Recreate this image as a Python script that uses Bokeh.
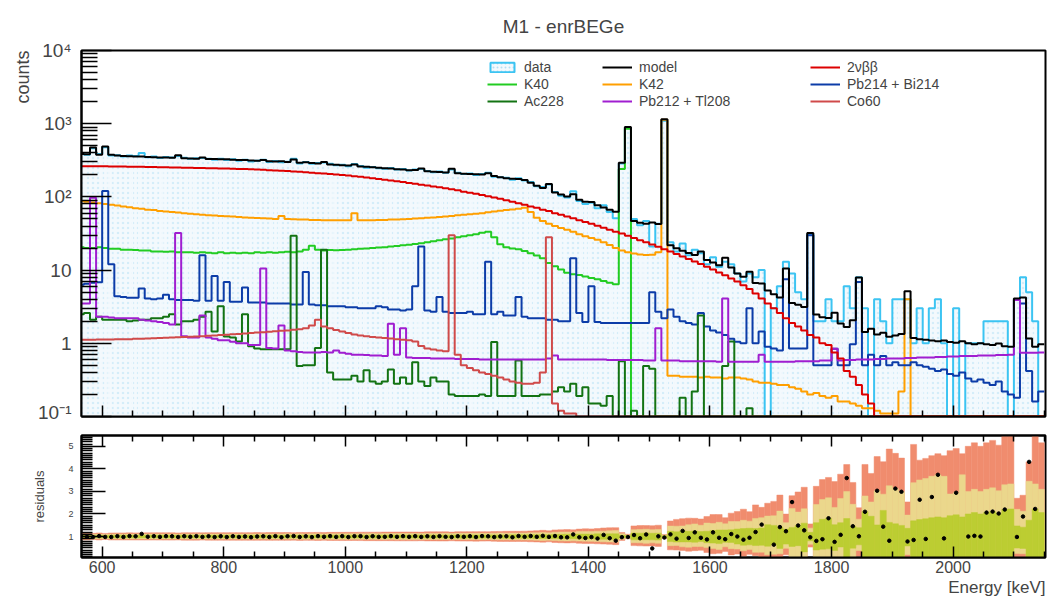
import math
import numpy as np
from bokeh.plotting import figure
from bokeh.layouts import column
from bokeh.models import Range1d, FixedTicker, Legend, LegendItem, LinearAxis, Title
from bokeh.embed import file_html
from bokeh.resources import INLINE

# ---------------------------------------------------------------------------
# Spectrum: 10 keV bins starting at 560 keV (bin centres 565 ... 2145 keV)
# ---------------------------------------------------------------------------
bin_start = 560
bin_width = 10

data_counts = [
    390, 377, 462, 385, 478, 368, 372, 356, 367, 361,
    398, 349, 355, 341, 350, 346, 362, 342, 331, 338,
    339, 333, 322, 331, 318, 326, 312, 321, 304, 312,
    322, 300, 309, 298, 303, 331, 287, 300, 283, 291,
    296, 283, 270, 276, 262, 281, 265, 251, 257, 246,
    243, 249, 236, 241, 229, 236, 240, 226, 217, 223,
    213, 237, 214, 205, 209, 199, 206, 213, 189, 186,
    182, 171, 180, 168, 160, 140, 136, 148, 117, 104,
    98, 119, 88, 80, 83, 70, 77, 62, 51, 285,
    880, 50, 41, 47, 21, 43, 1100, 24, 18, 23,
    16, 19, 17, 12, 15, 11, 13, 12, 9, 7,
    9, 8, 10, 0, 3, 6, 13, 9, 5, 4,
    31, 2, 2, 4, 2, 2, 6, 3, 8, 3,
    0, 4, 2, 1, 4, 4, 4, 1, 3, 1,
    3, 4, 1, 0, 3, 0, 1, 1, 1, 2,
    2, 2, 2, 0, 4, 8, 5, 2, 0,
]

two_nbb = [
    263, 263, 263, 262, 262, 261, 261, 260, 259, 259,
    258, 257, 256, 255, 254, 253, 252, 251, 250, 249,
    248, 247, 246, 245, 244, 243, 241, 240, 238, 236,
    234, 232, 230, 228, 225, 222, 220, 217, 214, 211,
    208, 205, 202, 199, 196, 192, 188, 184, 180, 176,
    172, 168, 164, 160, 155, 151, 147, 143, 139, 135,
    131, 127, 123, 118, 114, 110, 106, 102, 98, 94,
    90, 86, 82, 78, 74, 71, 67, 64, 60, 57,
    54, 51, 48, 45.5, 43, 40.5, 38, 35.5, 33.5, 31.5,
    29.5, 27.5, 25.5, 24, 22.3, 20.8, 19.3, 18, 16.6, 15.3,
    14.2, 13.1, 12.1, 11.1, 10.2, 9.3, 8.5, 7.7, 7.0, 6.2,
    5.5, 4.8, 4.1, 3.5, 3.0, 2.6, 2.2, 1.9, 1.7, 1.5,
    1.3, 1.2, 1.0, 0.95, 0.75, 0.62, 0.42, 0.35, 0.27, 0.2,
    0.15, 0.09, 0, 0, 0, 0, 0, 0, 0, 0,
    0, 0, 0, 0, 0, 0, 0, 0, 0, 0,
    0, 0, 0, 0, 0, 0, 0, 0, 0,
]

k40 = [
    20.5, 20, 20, 20.5, 20, 19.5, 19.5, 19, 19, 18.8,
    18.5, 18.5, 18, 18, 17.8, 18, 17.5, 17.5, 17.5, 17.3,
    17.5, 17.2, 17, 17.5, 17, 17.2, 17, 17.3, 17, 17.5,
    17.2, 17.5, 17.3, 17.5, 17.8, 17.5, 18, 19, 21.5, 19,
    18.5, 18.8, 18.6, 18.8, 19, 19.3, 19.5, 19.8, 20, 20.3,
    20.5, 21, 21.3, 21.8, 22.2, 22.7, 23.3, 24, 24.8, 25.5,
    26.3, 27, 28, 29, 30, 31, 32.5, 33.5, 28, 22.5,
    20.5, 19.8, 19.2, 18.2, 17, 15.8, 14.5, 12.5, 11.3, 10.2,
    9.2, 8.8, 8.6, 8.2, 7.8, 7.5, 7.1, 6.7, 6.4, 240,
    850, 0, 0, 0, 0, 0, 0, 0, 0, 0,
    0, 0, 0, 0, 0, 0, 0, 0, 0, 0,
    0, 0, 0, 0, 0, 0, 0, 0, 0, 0,
    0, 0, 0, 0, 0, 0, 0, 0, 0, 0,
    0, 0, 0, 0, 0, 0, 0, 0, 0, 0,
    0, 0, 0, 0, 0, 0, 0, 0, 0, 0,
    0, 0, 0, 0, 0, 0, 0, 0, 0,
]

k42 = [
    88, 86, 84, 82, 80, 78, 76, 74, 72, 70,
    69, 67, 66, 64, 63, 62, 61, 60, 59, 58,
    57, 56, 55.5, 55, 54.5, 54, 53, 52.5, 52, 51.5,
    51, 50.5, 50, 55, 50, 49.5, 49, 49, 48.5, 48.5,
    48, 48, 48, 48, 48, 60, 48, 48, 48, 48.5,
    48.5, 49, 49, 49.5, 50, 50.5, 51, 52, 52.5, 53,
    54, 55, 56, 57, 58, 59, 60, 61.5, 63, 64.5,
    66, 67.5, 69, 71, 62, 52, 47, 43, 40, 37.5,
    35.5, 33.5, 31, 29, 27.5, 26, 24, 22, 20, 18.5,
    17.5, 16.8, 16.3, 16.1, 16.2, 17.5, 1130, 0.36, 0.36, 0.35,
    0.35, 0.35, 0.34, 0.35, 0.34, 0.34, 0.33, 0.34, 0.34, 0.33,
    0.32, 0.3, 0.29, 0.29, 0.28, 0.27, 0.27, 0.25, 0.24, 0.22,
    0.2, 0.21, 0.19, 0.18, 0.19, 0.16, 0.16, 0.15, 0.14, 0.13,
    0.13, 0.12, 0.11, 0.11, 0.11, 0.22, 4.0, 0, 0, 0,
    0, 0, 0, 0, 0, 0, 0, 0, 0, 0,
    0, 0, 0, 0, 0, 0, 0, 0, 0,
]

pb214_bi214 = [
    6.3, 6.5, 6.7, 6.8, 120, 12, 4.4, 4.3, 4.2, 4.2,
    5.6, 4.1, 4.0, 4.1, 4.6, 4.0, 3.9, 3.9, 3.9, 3.8,
    15.9, 3.8, 8.3, 3.8, 6.9, 3.7, 3.7, 5.8, 3.6, 3.6,
    3.6, 3.5, 3.5, 3.5, 3.5, 3.4, 3.4, 9.4, 3.4, 3.3,
    3.3, 3.2, 3.2, 3.2, 3.1, 3.1, 3.0, 3.0, 3.0, 3.2,
    3.1, 2.9, 2.9, 2.8, 2.9, 6.0, 21, 2.8, 2.7, 4.3,
    2.7, 2.6, 2.6, 2.6, 2.7, 2.5, 2.5, 13, 2.5, 2.7,
    2.4, 2.4, 4.3, 2.3, 2.2, 2.2, 2.2, 2.1, 2.1, 2.0,
    2.0, 14.5, 2.6, 1.95, 6.0, 1.95, 1.9, 1.9, 1.9, 1.9,
    1.9, 1.9, 1.9, 1.9, 5.0, 2.7, 2.2, 2.9, 2.3, 2.0,
    1.9, 1.8, 2.6, 1.7, 1.5, 1.4, 1.3, 1.15, 1.05, 1.0,
    3.0, 1.0, 1.45, 0.9, 0.85, 0.8, 7.5, 0.85, 0.85, 0.85,
    30, 0.5, 0.5, 0.5, 0.84, 0.5, 0.5, 0.97, 6.9, 0.5,
    0.7, 0.5, 0.67, 0.5, 0.55, 0.5, 0.5, 0.55, 0.5, 0.48,
    0.45, 0.42, 0.44, 0.38, 0.36, 0.4, 0.33, 0.3, 0.32, 0.29,
    0.27, 0.3, 0.22, 0.2, 0.18, 3.5, 0.42, 0.16, 0.22,
]

ac228 = [
    2.5, 2.6, 2.1, 2.3, 2.1, 2.1, 2.1, 2.1, 2.0, 2.05,
    2.1, 2.1, 2.2, 2.2, 2.3, 2.5, 1.8, 2.0, 2.0, 2.1,
    2.3, 2.7, 1.45, 3.2, 1.24, 1.2, 1.06, 2.5, 0.91, 0.85,
    0.83, 0.83, 0.83, 0.83, 0.83, 29.5, 0.49, 0.5, 0.5, 0.86,
    19, 0.4, 0.32, 0.32, 0.32, 0.36, 0.3, 0.43, 0.3, 0.28,
    0.3, 0.44, 0.28, 0.34, 0.28, 0.55, 0.3, 0.26, 0.34, 0.3,
    0.3, 0.2, 0.19, 0.19, 0.19, 0.19, 0.2, 0.19, 1.04, 0.19,
    0.19, 0.19, 0.58, 0.19, 0.19, 0.19, 0.2, 0.2, 0.22, 0.25,
    0.22, 0.28, 0.19, 0.25, 0.15, 0.15, 0.14, 0.19, 0.08, 0.57,
    0.08, 0.12, 0.05, 0.49, 0.45, 0.05, 0.05, 0.05, 0.05, 0.18,
    0.05, 0.22, 2.4, 0.05, 0.05, 0.05, 0.49, 1.06, 0.05, 0.05,
    0.13, 0, 0, 0, 0, 0, 0, 0, 0, 0,
    0, 0, 0, 0, 0, 0, 0, 0, 0, 0,
    0, 0, 0, 0, 0, 0, 0, 0, 0, 0,
    0, 0, 0, 0, 0, 0, 0, 0, 0, 0,
    0, 0, 0, 0, 0, 0, 0, 0, 0,
]

pb212_tl208 = [
    3.5, 3.5, 97, 2.3, 2.3, 2.25, 2.2, 2.2, 2.2, 2.2,
    2.1, 2.05, 2.0, 1.95, 1.9, 1.8, 32, 1.25, 1.2, 1.2,
    2.4, 1.2, 1.15, 1.1, 1.1, 1.05, 1.0, 1.0, 0.95, 0.95,
    10.5, 0.86, 0.85, 1.75, 0.8, 0.78, 0.76, 0.75, 0.75, 0.75,
    0.76, 0.75, 0.8, 0.74, 0.72, 0.7, 0.7, 0.69, 0.68, 0.68,
    0.67, 1.85, 0.7, 1.6, 0.64, 0.63, 0.63, 0.63, 0.62, 0.62,
    0.62, 0.62, 0.61, 0.61, 0.61, 0.61, 0.6, 0.6, 0.6, 0.6,
    0.6, 0.6, 0.6, 0.6, 0.6, 0.6, 0.6, 0.62, 0.68, 0.6,
    0.6, 0.6, 0.6, 0.6, 0.6, 0.6, 0.6, 0.59, 0.59, 0.59,
    0.59, 0.59, 0.59, 0.58, 0.58, 1.6, 0.58, 0.58, 0.58, 0.57,
    0.57, 0.57, 0.57, 0.57, 0.57, 0.56, 4.1, 0.56, 0.56, 0.56,
    0.56, 0.56, 0.7, 0.56, 0.56, 0.56, 0.56, 0.56, 0.57, 0.57,
    0.57, 0.57, 0.58, 0.58, 0.84, 0.58, 0.59, 0.59, 0.6, 0.6,
    0.6, 0.61, 0.61, 0.62, 0.62, 0.62, 0.63, 0.63, 0.64, 0.64,
    0.64, 0.65, 0.65, 0.66, 0.66, 0.67, 0.67, 0.67, 0.68, 0.68,
    0.68, 0.69, 0.69, 0.7, 3.9, 0.74, 0.74, 0.74, 0.75,
]

co60 = [
    1.12, 1.12, 1.12, 1.13, 1.13, 1.13, 1.14, 1.14, 1.14, 1.15,
    1.15, 1.16, 1.17, 1.18, 1.19, 1.2, 1.21, 1.22, 1.23, 1.24,
    1.25, 1.27, 1.28, 1.3, 1.31, 1.33, 1.34, 1.36, 1.38, 1.4,
    1.42, 1.44, 1.46, 1.48, 1.5, 1.53, 1.56, 1.6, 1.75, 2.1,
    1.7, 1.6, 1.52, 1.45, 1.38, 1.32, 1.28, 1.25, 1.22, 1.2,
    1.18, 1.16, 1.14, 1.12, 1.1, 1.06, 0.92, 0.85, 0.82, 0.8,
    0.78, 30, 0.7, 0.5, 0.46, 0.43, 0.4, 0.38, 0.36, 0.34,
    0.32, 0.3, 0.29, 0.28, 0.28, 0.29, 0.4, 28, 0.15, 0.12,
    0.11, 0.11, 0.1, 0.1, 0.09, 0.09, 0.08, 0.08, 0, 0,
    0, 0, 0, 0, 0, 0, 0, 0, 0, 0,
    0, 0, 0, 0, 0, 0, 0, 0, 0, 0,
    0, 0, 0, 0, 0, 0, 0, 0, 0, 0,
    0, 0, 0, 0, 0, 0, 0, 0, 0, 0,
    0, 0, 0, 0, 0, 0, 0, 0, 0, 0,
    0, 0, 0, 0, 0, 0, 0, 0, 0, 0,
    0, 0, 0, 0, 0, 0, 0, 0, 0,
]

# axis ticks
energy_ticks = [600, 800, 1000, 1200, 1400, 1600, 1800, 2000]
count_ticks = [0.1, 1, 10, 100, 1000, 10000]
count_tick_labels = ["10\u207b\u00b9", "1", "10", "10\u00b2", "10\u00b3", "10\u2074"]
residual_ticks = [1, 2, 3, 4, 5]

# ---------------------------------------------------------------------------
n_bins = len(data_counts)
edges = bin_start + bin_width * np.arange(n_bins + 1)
left, right = edges[:-1], edges[1:]
centres = 0.5 * (left + right)

components = [k40, k42, pb214_bi214, ac228, pb212_tl208, co60, two_nbb]
model = np.sum([np.asarray(c, float) for c in components], axis=0)
data = np.asarray(data_counts, float)

Y_MIN, Y_MAX = 0.1, 1e4


def floor_at_axis(v):
    return np.maximum(np.asarray(v, float), Y_MIN)


def step_xy(values):
    v = floor_at_axis(values)
    return list(edges), list(v) + [v[-1]]


FONT = "Liberation Sans"
X_RANGE = Range1d(566, 2152)

minor_energy = [e for e in range(600, 2151, 50) if e % 200 != 0]
minor_counts = [m * 10.0 ** d for d in range(-1, 4) for m in range(2, 10)]
blank_energy = {t: "" for t in energy_ticks}


def style_ticks(ax, major, minor):
    ax.major_tick_in = major
    ax.major_tick_out = 0
    ax.minor_tick_in = minor
    ax.minor_tick_out = 0
    ax.axis_line_width = 2
    ax.major_tick_line_width = 1.5
    ax.minor_tick_line_width = 1.5


# ---------------------------------------------------------------------------
# upper pad: spectrum
# ---------------------------------------------------------------------------
top = figure(width=1049, height=422, x_range=X_RANGE,
             y_range=Range1d(Y_MIN, Y_MAX), y_axis_type="log",
             output_backend="svg", toolbar_location=None,
             min_border_left=76, min_border_right=4,
             min_border_top=45, min_border_bottom=6)
top.xgrid.visible = False
top.ygrid.visible = False
top.outline_line_color = "black"
top.outline_line_width = 2

yax = top.yaxis[0]
yax.ticker = FixedTicker(ticks=count_ticks, minor_ticks=minor_counts)
yax.major_label_overrides = {t: s for t, s in zip(count_ticks, count_tick_labels)}
yax.major_label_text_font = FONT
yax.major_label_text_font_size = "19px"
yax.major_label_standoff = 10
style_ticks(yax, 30, 16)
yax.axis_label = "counts"
yax.axis_label_text_font = FONT
yax.axis_label_text_font_size = "18px"
yax.axis_label_text_font_style = "normal"
yax.axis_label_standoff = 12
yax.axis_label_orientation = math.pi / 2
if "axis_label_align" in yax.properties():
    yax.axis_label_align = "end"

xax = top.xaxis[0]
xax.ticker = FixedTicker(ticks=energy_ticks, minor_ticks=minor_energy)
xax.major_label_overrides = blank_energy
xax.major_label_text_font_size = "1px"
xax.major_label_standoff = 0
style_ticks(xax, 11, 6)

top.add_layout(Title(text="M1 - enrBEGe", align="center", text_font=FONT,
                     text_font_size="19px", text_font_style="normal",
                     standoff=27), "above")

DATA_FILL = "#f3f9fd"
DATA_DOTS = "#b4dff3"
DATA_LINE = "#3cc4f2"

top.quad(left=left, right=right, bottom=Y_MIN, top=floor_at_axis(data),
         fill_color=DATA_FILL, line_color=DATA_FILL, line_width=1,
         hatch_pattern="dot", hatch_color=DATA_DOTS, hatch_scale=5,
         hatch_weight=1, hatch_alpha=0.5)
nan = float("nan")
data_key = top.quad(left=[nan], right=[nan], bottom=[nan], top=[nan],
                    fill_color=DATA_FILL, line_color=DATA_LINE, line_width=2,
                    hatch_pattern="dot", hatch_color=DATA_DOTS, hatch_scale=4,
                    hatch_weight=1)
sx, sy = step_xy(data)
top.step(sx, sy, mode="after", line_color=DATA_LINE, line_width=2)

styles = [
    ("K40", k40, "#22cc22"),
    ("K42", k42, "#ff9f00"),
    ("Pb214 + Bi214", pb214_bi214, "#0c3ca8"),
    ("Ac228", ac228, "#137313"),
    ("Pb212 + Tl208", pb212_tl208, "#a01ed0"),
    ("Co60", co60, "#d04a4a"),
    ("2\u03bd\u03b2\u03b2", two_nbb, "#dd0000"),
]
rend = {}
for name, vals, col in styles:
    sx, sy = step_xy(vals)
    rend[name] = top.step(sx, sy, mode="after", line_color=col, line_width=2)
sx, sy = step_xy(model)
rend["model"] = top.step(sx, sy, mode="after", line_color="black", line_width=2)


def make_legend(entries, loc):
    leg = Legend(items=[LegendItem(label=lab, renderers=[r]) for lab, r in entries],
                 location=loc, orientation="vertical",
                 label_text_font=FONT, label_text_font_size="14px",
                 glyph_width=30, glyph_height=12, label_height=12,
                 label_standoff=7, spacing=1, padding=0, margin=0,
                 border_line_alpha=0, background_fill_alpha=0)
    top.add_layout(leg)


make_legend([("data", data_key), ("K40", rend["K40"]), ("Ac228", rend["Ac228"])], (406, 307))
make_legend([("model", rend["model"]), ("K42", rend["K42"]),
             ("Pb212 + Tl208", rend["Pb212 + Tl208"])], (521, 307))
make_legend([("2\u03bd\u03b2\u03b2", rend["2\u03bd\u03b2\u03b2"]),
             ("Pb214 + Bi214", rend["Pb214 + Bi214"]), ("Co60", rend["Co60"])], (729, 307))

# ---------------------------------------------------------------------------
# lower pad: data / model with Poisson bands of the model expectation
# ---------------------------------------------------------------------------


def poisson_quantile(mu, q):
    k, cdf, lmu = 0, 0.0, math.log(mu)
    while True:
        cdf += math.exp(k * lmu - mu - math.lgamma(k + 1))
        if cdf >= q:
            return k
        k += 1


def band(p):
    lo = np.array([poisson_quantile(m, 0.5 * (1 - p)) for m in model]) / model
    hi = np.array([poisson_quantile(m, 0.5 * (1 + p)) for m in model]) / model
    return lo, hi


bot = figure(width=1049, height=176, x_range=X_RANGE, y_range=Range1d(0.07, 5.48),
             output_backend="svg", toolbar_location=None,
             min_border_left=76, min_border_right=4,
             min_border_top=13, min_border_bottom=41)
bot.xgrid.visible = False
bot.ygrid.visible = False
bot.outline_line_color = "black"
bot.outline_line_width = 2

for p, col in [(0.9973, "#f08c6e"), (0.9545, "#ebd78c"), (0.6827, "#bccd32")]:
    lo, hi = band(p)
    bot.quad(left=left, right=right, bottom=lo, top=hi,
             fill_color=col, line_color=col, line_width=0.5)

has_data = data > 0
bot.scatter(centres[has_data], (data / model)[has_data], size=3.5,
            color="black", marker="circle")

bx = bot.xaxis[0]
bx.ticker = FixedTicker(ticks=energy_ticks, minor_ticks=minor_energy)
bx.major_label_text_font = FONT
bx.major_label_text_font_size = "16px"
bx.major_label_standoff = 3
style_ticks(bx, 11, 6)

ax_top = LinearAxis(ticker=FixedTicker(ticks=energy_ticks, minor_ticks=minor_energy),
                    major_label_overrides=blank_energy,
                    major_label_text_font_size="1px", major_label_standoff=0)
style_ticks(ax_top, 11, 6)
bot.add_layout(ax_top, "above")

by = bot.yaxis[0]
by.ticker = FixedTicker(ticks=residual_ticks,
                        minor_ticks=[round(0.1 * i, 1) for i in range(1, 55) if i % 10])
by.major_label_text_font = FONT
by.major_label_text_font_size = "9px"
by.major_label_standoff = 8
style_ticks(by, 24, 11)
by.axis_label = "residuals"
by.axis_label_text_font = FONT
by.axis_label_text_font_size = "13px"
by.axis_label_text_font_style = "normal"
by.axis_label_standoff = 18

bot.add_layout(Title(text="Energy [keV]", align="right", text_font=FONT,
                     text_font_size="17px", text_font_style="normal",
                     standoff=0), "below")

layout = column(top, bot, spacing=0)
open("out.html", "w").write(file_html(layout, INLINE))
